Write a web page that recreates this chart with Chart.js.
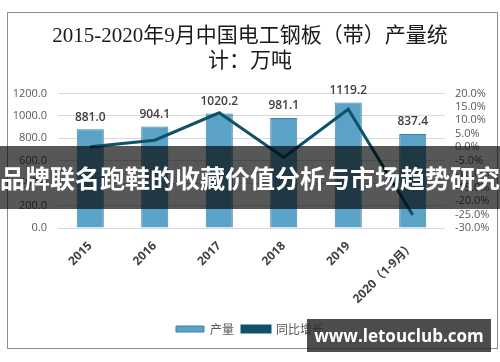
<!DOCTYPE html>
<html lang="zh">
<head>
<meta charset="UTF-8">
<title>2015-2020年9月中国电工钢板（带）产量统计</title>
<script src="https://cdn.jsdelivr.net/npm/chart.js"></script>
<style>
  html, body { margin: 0; padding: 0; background: #fff; }
  #wrap { position: relative; width: 500px; height: 362px; overflow: hidden; }
  #chart { position: absolute; left: 0; top: 0; }
  .frame { position: absolute; left: 7px; top: 12px; width: 489px; height: 335px; border: 1px solid #8c8c8c; pointer-events: none; }
  .band {
    position: absolute; left: -10px; top: 146px; width: 520px; height: 63px;
    background: rgba(0, 0, 0, 0.66); color: #fff;
    font: bold 25px "Noto Sans CJK SC", sans-serif; line-height: 63px;
    text-align: center; white-space: nowrap;
  }
  .mark {
    position: absolute; left: 307px; top: 319px; width: 184px; height: 33px;
    background: rgba(45, 45, 45, 0.85); color: #fff;
    font: bold 17px "Open Sans", sans-serif; line-height: 33px;
    text-align: center; white-space: nowrap;
  }
</style>
</head>
<body>
<div id="wrap">
  <canvas id="chart" width="500" height="362"></canvas>
  <div class="frame"></div>
  <div class="band">品牌联名跑鞋的收藏价值分析与市场趋势研究</div>
  <div class="mark">www.letouclub.com</div>
</div>
<script>
  // data
  const years = ['2015', '2016', '2017', '2018', '2019', '2020（1-9月）'];
  const output = [881.0, 904.1, 1020.2, 981.1, 1119.2, 837.4];   // 万吨
  const growth = [0.2, 2.6, 12.8, -3.8, 14.1, -25.2];          // %
  const leftTicks = [0, 200, 400, 600, 800, 1000, 1200];
  const rightTicks = [-30, -25, -20, -15, -10, -5, 0, 5, 10, 15, 20];

  const tickFont = { family: '"Open Sans", "Noto Sans CJK SC", sans-serif', size: 11 };

  // value labels above the bars
  const barLabels = {
    id: 'barLabels',
    afterDatasetsDraw(chart) {
      const meta = chart.getDatasetMeta(0);
      const c = chart.ctx;
      c.save();
      c.font = '600 12px "Open Sans", sans-serif';
      c.fillStyle = '#404040';
      c.textAlign = 'center';
      c.textBaseline = 'bottom';
      meta.data.forEach((bar, i) => {
        c.fillText(output[i].toFixed(1), bar.x, bar.y - 6);
      });
      c.restore();
    }
  };

  new Chart(document.getElementById('chart'), {
    data: {
      labels: years,
      datasets: [
        {
          type: 'bar',
          label: '产量',
          data: output,
          yAxisID: 'y',
          backgroundColor: '#5ba3c6',
          borderColor: '#3f82a3',
          borderWidth: 1,
          categoryPercentage: 1,
          barPercentage: 0.42,
          order: 2
        },
        {
          type: 'line',
          label: '同比增长',
          data: growth,
          yAxisID: 'y1',
          borderColor: '#0f5169',
          backgroundColor: '#0f5169',
          borderWidth: 3,
          pointRadius: 0,
          tension: 0,
          order: 1
        }
      ]
    },
    options: {
      responsive: false,
      animation: false,
      layout: { padding: { top: 12, left: 0, right: 0, bottom: 17 } },
      plugins: {
        title: {
          display: true,
          text: ['2015-2020年9月中国电工钢板（带）产量统', '计：万吨'],
          color: '#1a1a1a',
          font: { family: '"Liberation Serif", "Noto Sans CJK SC", serif', size: 21, weight: 'normal', lineHeight: 1.2 },
          padding: { top: 12, bottom: 19 }
        },
        legend: {
          position: 'bottom',
          labels: {
            boxWidth: 28,
            boxHeight: 6,
            padding: 8,
            color: '#595959',
            font: { family: '"Noto Sans CJK SC", sans-serif', size: 12 },
            sort: (a, b) => a.datasetIndex - b.datasetIndex
          }
        },
        tooltip: { enabled: false }
      },
      scales: {
        x: {
          grid: { display: false },
          border: { display: false },
          ticks: {
            maxRotation: 45,
            minRotation: 45,
            autoSkip: false,
            color: '#404040',
            font: { family: '"Open Sans", "Noto Sans CJK SC", sans-serif', size: 12, weight: 'bold' }
          },
          afterFit(axis) { axis.height = 87; }
        },
        y: {
          position: 'left',
          min: 0,
          max: 1200,
          afterBuildTicks(axis) { axis.ticks = leftTicks.map(v => ({ value: v })); },
          grid: { color: '#d9d9d9', drawTicks: false },
          border: { display: false },
          ticks: {
            autoSkip: false,
            padding: 11,
            color: '#595959',
            font: tickFont,
            callback: v => v.toFixed(1)
          },
          afterFit(axis) { axis.width = 58; }
        },
        y1: {
          position: 'right',
          min: -30,
          max: 20,
          afterBuildTicks(axis) { axis.ticks = rightTicks.map(v => ({ value: v })); },
          grid: { display: false, drawTicks: false },
          border: { display: false },
          ticks: {
            autoSkip: false,
            padding: 10,
            color: '#595959',
            font: tickFont,
            callback: v => v.toFixed(1) + '%'
          },
          afterFit(axis) { axis.width = 55; }
        }
      }
    },
    plugins: [barLabels]
  });
</script>
</body>
</html>
